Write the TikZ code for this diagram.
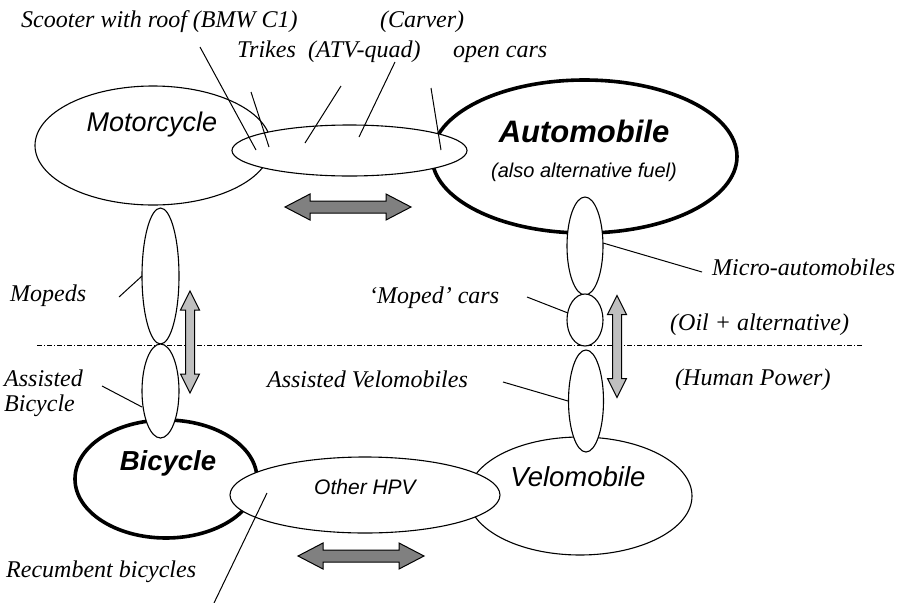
\documentclass[tikz,border=0pt]{standalone}
\usepackage{fontspec}
\setmainfont{Liberation Serif}
\setsansfont{Liberation Sans}
\usetikzlibrary{shapes.geometric,calc}

\tikzset{
  vehicle/.style={ellipse, draw=black, line width=1.1pt, fill=white, inner sep=0pt},
  mainvehicle/.style={vehicle, line width=3.6pt},
  remark/.style={font=\fontsize{24}{26}\selectfont\itshape, inner sep=0pt, anchor=base west},
  vname/.style={font=\fontsize{27}{30}\selectfont\sffamily\itshape, inner sep=0pt},
  leader/.style={line width=1pt},
  boundary/.style={line width=0.7pt, dash pattern=on 5pt off 2pt on 1pt off 2pt},
  harrow/.pic={\draw[line width=1pt, fill=black!50]
    (-63,0) -- (-38,-13) -- (-38,-6) -- (38,-6) -- (38,-13) -- (63,0)
    -- (38,13) -- (38,6) -- (-38,6) -- (-38,13) -- cycle;},
  varrow/.pic={\draw[line width=1pt, fill=black!25]
    (0,-51) -- (9.5,-32) -- (4.5,-32) -- (4.5,32) -- (9.5,32) -- (0,51)
    -- (-9.5,32) -- (-4.5,32) -- (-4.5,-32) -- (-9.5,-32) -- cycle;}
}

\begin{document}
\begin{tikzpicture}[x=1pt, y=-1pt]
\useasboundingbox (0,0) rectangle (906,603);

% oil / human power border
\coordinate (borderW) at (37,345);
\coordinate (borderE) at (863,345);
\draw[boundary] (borderW) -- (borderE);

% main classes
\node[vehicle, minimum width=236pt, minimum height=119pt] (motorcycle) at (153,145.5) {};
\node[mainvehicle, minimum width=305pt, minimum height=153pt] (automobile) at (584.5,156.5) {};
\node[mainvehicle, minimum width=182pt, minimum height=118pt] (bicycle) at (166,479) {};
\node[vehicle, minimum width=224pt, minimum height=118pt] (velomobile) at (580,496) {};

% in-between classes
\node[vehicle, minimum width=235pt, minimum height=51pt] (crossover) at (349.5,150.5) {};
\node[vehicle, minimum width=270pt, minimum height=76pt] (otherhpv) at (365,495) {};
\node[vehicle, minimum width=37pt, minimum height=136pt] (mopeds) at (160.5,276) {};
\node[vehicle, minimum width=37pt, minimum height=94pt] (assistedbike) at (160.5,391) {};
\node[vehicle, minimum width=36pt, minimum height=98pt] (microauto) at (585,246) {};
\node[vehicle, minimum width=36pt, minimum height=52pt] (mopedcars) at (585,320) {};
\node[vehicle, minimum width=35pt, minimum height=102pt] (assistedvelo) at (586,401) {};

% shifts
\pic at (348,207) {harrow};
\pic at (361,556) {harrow};
\pic at (190,342) {varrow};
\pic at (617,346.5) {varrow};

% names
\node[vname] (motorcycletxt) at (152,125) {Motorcycle};
\node[vname, font=\fontsize{31}{34}\selectfont\sffamily\bfseries\itshape] (automobiletxt) at (584,131) {Automobile};
\node[vname, font=\fontsize{20}{24}\selectfont\sffamily\itshape] (fueltxt) at (584,172) {(also alternative fuel)};
\node[vname, font=\fontsize{27.5}{30}\selectfont\sffamily\bfseries\itshape] (bicycletxt) at (168,463) {Bicycle};
\node[vname, font=\fontsize{27.5}{30}\selectfont\sffamily\itshape] (velomobiletxt) at (578,477) {Velomobile};
\node[vname, font=\fontsize{21}{24}\selectfont\sffamily\itshape] (otherhpvtxt) at (365,487) {Other HPV};

% remarks
\node[remark] (scooter) at (21,27) {Scooter with roof (BMW C1)};
\node[remark] (carver) at (380,27) {(Carver)};
\node[remark] (trikes) at (237,57) {Trikes};
\node[remark] (atv) at (308,57) {(ATV-quad)};
\node[remark] (opencars) at (453,57) {open cars};
\node[remark] (mopedtxt) at (10,301) {Mopeds};
\node[remark] (assisted) at (4,386) {Assisted};
\node[remark] (assistedbiketxt) at (4,411) {Bicycle};
\node[remark] (mopedcarstxt) at (369,303) {‘Moped’ cars};
\node[remark, anchor=base east] (assistedvelotxt) at (468,387) {Assisted Velomobiles};
\node[remark] (microtxt) at (712,275) {Micro-automobiles};
\node[remark] (oil) at (670,330) {(Oil + alternative)};
\node[remark] (human) at (675,385) {(Human Power)};
\node[remark] (recumbent) at (6,577) {Recumbent bicycles};

% leader lines
\coordinate (scooterA) at (200,47);    \coordinate (scooterB) at (256,150);
\coordinate (trikesA) at (251,92);     \coordinate (trikesB) at (269,147);
\coordinate (carverA) at (341,86);     \coordinate (carverB) at (305,143);
\coordinate (atvA) at (395,62);        \coordinate (atvB) at (359,137);
\coordinate (openA) at (431,88);       \coordinate (openB) at (441,150);
\coordinate (mopedA) at (119,297);     \coordinate (mopedB) at (142,276);
\coordinate (abikeA) at (102,386);     \coordinate (abikeB) at (142,407);
\coordinate (mcarsA) at (527,297);     \coordinate (mcarsB) at (568,313);
\coordinate (microA) at (702,272);     \coordinate (microB) at (603,243);
\coordinate (aveloA) at (503,382);     \coordinate (aveloB) at (568,401);
\coordinate (recumA) at (214,603);     \coordinate (recumB) at (267,493);
\foreach \l in {scooter,trikes,carver,atv,open,moped,abike,mcars,micro,avelo,recum}
  \draw[leader] (\l A) -- (\l B);
\end{tikzpicture}
\end{document}
